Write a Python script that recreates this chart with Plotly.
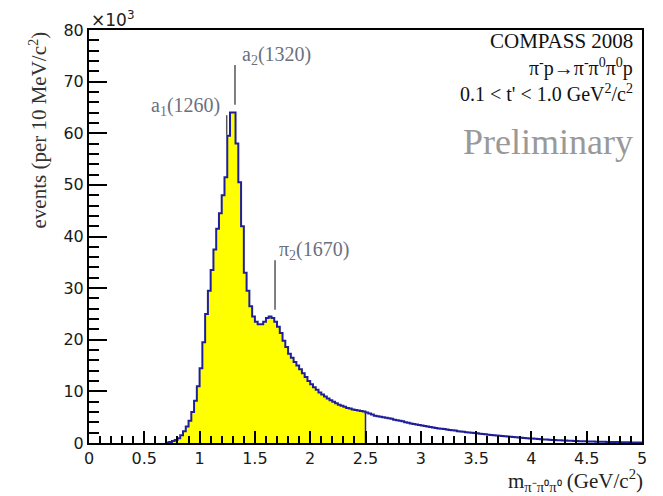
import plotly.graph_objects as go

# ---- data (thousands of events per bin) ----
BIN_START = 0.70
BIN_WIDTH = 0.025
FILL_END = 2.5
counts_k = [
    0.1, 0.2, 0.4, 0.6, 0.9, 1.5, 2.3, 3.2, 4.3, 6.0,
    8.2, 11.0, 14.5, 19.5, 25.0, 29.5, 33.5, 37.5, 41.5, 44.5,
    48.0, 51.5, 59.5, 64.0, 64.0, 58.0, 50.5, 42.0, 33.0, 29.5,
    26.5, 24.5, 23.5, 23.0, 23.0, 23.5, 24.2, 24.5, 24.2, 23.5,
    22.5, 21.3, 19.8, 18.6, 17.3, 16.5, 15.7, 15.0, 14.3, 13.5,
    12.8, 12.0, 11.4, 10.8, 10.3, 9.8, 9.4, 9.0, 8.6, 8.3,
    8.0, 7.7, 7.4, 7.2, 7.0, 6.8, 6.7, 6.5, 6.4, 6.3,
    6.2, 6.1, 5.9, 5.7, 5.5, 5.3, 5.2, 5.1, 5.0, 4.9,
    4.8, 4.7, 4.5, 4.4, 4.3, 4.2, 4.0, 3.9, 3.8, 3.7,
    3.6, 3.5, 3.4, 3.3, 3.2, 3.1, 3.0, 2.9, 2.8, 2.75,
    2.7, 2.6, 2.5, 2.45, 2.4, 2.3, 2.25, 2.2, 2.1, 2.05,
    2.0, 1.95, 1.9, 1.8, 1.75, 1.7, 1.6, 1.55, 1.5, 1.45,
    1.4, 1.35, 1.3, 1.25, 1.2, 1.15, 1.1, 1.05, 1.0, 0.95,
    0.92, 0.88, 0.85, 0.8, 0.77, 0.73, 0.7, 0.66, 0.63, 0.6,
    0.57, 0.54, 0.52, 0.49, 0.47, 0.45, 0.42, 0.4, 0.38, 0.36,
    0.34, 0.32, 0.3, 0.29, 0.27, 0.26, 0.24, 0.23, 0.22, 0.21,
    0.2, 0.19, 0.18, 0.17, 0.16, 0.15, 0.14, 0.13, 0.12, 0.11,
    0.1, 0.1,
]
x_ticks = [0, 0.5, 1, 1.5, 2, 2.5, 3, 3.5, 4, 4.5, 5]
x_ticklabels = ["0", "0.5", "1", "1.5", "2", "2.5", "3", "3.5", "4", "4.5", "5"]
y_ticks = [0, 10, 20, 30, 40, 50, 60, 70, 80]
y_ticklabels = ["0", "10", "20", "30", "40", "50", "60", "70", "80"]

# resonance labels
res_labels = ["a<sub>1</sub>(1260)", "a<sub>2</sub>(1320)", "π<sub>2</sub>(1670)"]
res_text_x = [1.2025, 1.365, 1.70]
res_text_y = [65.1, 75.0, 37.2]
res_anchor = ["right", "left", "left"]
res_line_x = [1.245, 1.32, 1.682]
res_line_y0 = [59.7, 65.5, 25.8]
res_line_y1 = [63.5, 73.2, 35.4]

# ---- build histogram geometry ----
n = len(counts_k)
edges = [BIN_START + BIN_WIDTH * i for i in range(n + 1)]
ox = [edges[0]] + edges[:n] + [edges[n], edges[n]]
oy = [0] + counts_k + [counts_k[-1], 0]

k = sum(1 for e in edges[:n] if e < FILL_END - 1e-9)
fx = edges[:k] + [edges[k]]
fy = counts_k[:k] + [counts_k[k - 1]]

LINE_COL = "#1f1f9c"

fig = go.Figure()
fig.add_trace(go.Scatter(x=fx, y=fy, mode="lines", line=dict(shape="hv", width=0),
                         fill="tozeroy", fillcolor="#ffff00", hoverinfo="skip", showlegend=False))
fig.add_trace(go.Scatter(x=[edges[k], edges[k]], y=[0, max(counts_k[k - 1], counts_k[k])],
                         mode="lines", line=dict(color=LINE_COL, width=1.5), showlegend=False))
fig.add_trace(go.Scatter(x=ox, y=oy, mode="lines", line=dict(shape="hv", color=LINE_COL, width=2),
                         showlegend=False))

tickfont = dict(family="DejaVu Sans", size=16, color="#1a1a1a")
fig.update_xaxes(range=[0, 5], tickmode="array", tickvals=x_ticks, ticktext=x_ticklabels,
                 ticks="inside", ticklen=12, tickwidth=1.5, tickcolor="black",
                 minor=dict(ticks="inside", dtick=0.1, ticklen=7, tickwidth=1.5, tickcolor="black"),
                 showline=True, linecolor="black", linewidth=2, mirror=True,
                 showgrid=False, zeroline=False, tickfont=tickfont)
fig.update_yaxes(range=[0, 80], tickmode="array", tickvals=y_ticks, ticktext=y_ticklabels,
                 ticks="inside", ticklen=18, tickwidth=1.5, tickcolor="black",
                 minor=dict(ticks="inside", dtick=2, ticklen=10, tickwidth=1.5, tickcolor="black"),
                 showline=True, linecolor="black", linewidth=2, mirror=True,
                 showgrid=False, zeroline=False, tickfont=tickfont)

serif = "Liberation Serif"
ann = []
ann.append(dict(text="×10<sup>3</sup>", xref="paper", yref="paper", x=0.0, y=1.027,
                xanchor="left", yanchor="middle", showarrow=False,
                font=dict(family="DejaVu Sans", size=17, color="#222")))
ann.append(dict(text="events (per 10 MeV/c<sup>2</sup>)", xref="paper", yref="paper",
                x=-0.0922, y=1.0, xanchor="center", yanchor="top", textangle=-90, showarrow=False,
                font=dict(family=serif, size=21, color="#333")))
ann.append(dict(text="m<sub>π⁻π⁰π⁰</sub> (GeV/c<sup>2</sup>)", xref="paper", yref="paper",
                x=1.005, y=-0.09, xanchor="right", yanchor="middle", showarrow=False,
                font=dict(family=serif, size=21, color="#222")))
ann.append(dict(text="COMPASS 2008", xref="paper", yref="paper", x=0.987, y=0.973,
                xanchor="right", yanchor="middle", showarrow=False,
                font=dict(family=serif, size=21, color="#111")))
ann.append(dict(text="π<sup>-</sup>p→π<sup>-</sup>π<sup>0</sup>π<sup>0</sup>p", xref="paper", yref="paper",
                x=0.987, y=0.908, xanchor="right", yanchor="middle", showarrow=False,
                font=dict(family=serif, size=20, color="#111")))
ann.append(dict(text="0.1 < t' < 1.0 GeV<sup>2</sup>/c<sup>2</sup>", xref="paper", yref="paper",
                x=0.987, y=0.847, xanchor="right", yanchor="middle", showarrow=False,
                font=dict(family=serif, size=20, color="#111")))
ann.append(dict(text="Preliminary", xref="paper", yref="paper", x=0.987, y=0.729,
                xanchor="right", yanchor="middle", showarrow=False,
                font=dict(family=serif, size=36, color="#999999")))
for lab, tx, ty, anc in zip(res_labels, res_text_x, res_text_y, res_anchor):
    ann.append(dict(text=lab, x=tx, y=ty, xref="x", yref="y", xanchor=anc, yanchor="middle",
                    showarrow=False, font=dict(family=serif, size=20, color="#6a7080")))

shapes = []
for lx, y0, y1 in zip(res_line_x, res_line_y0, res_line_y1):
    shapes.append(dict(type="line", xref="x", yref="y", x0=lx, x1=lx, y0=y0, y1=y1,
                       line=dict(color="#555555", width=1.5)))

# the page has an 8px body margin, so the figure is 8px smaller than the window
fig.update_layout(width=655, height=488,
                  margin=dict(l=81, r=21, t=22, b=53, autoexpand=False),
                  paper_bgcolor="white", plot_bgcolor="white",
                  annotations=ann, shapes=shapes, showlegend=False)

fig.write_html("out.html")
